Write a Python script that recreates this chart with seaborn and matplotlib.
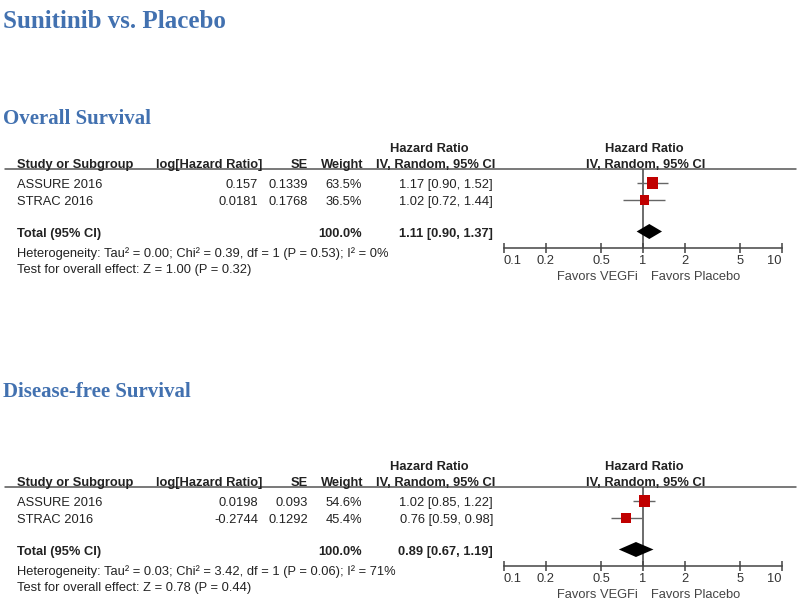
import numpy as np
import pandas as pd
import matplotlib
matplotlib.use("Agg")
import matplotlib.pyplot as plt
import seaborn as sns
from matplotlib.ticker import FixedLocator, FixedFormatter, NullLocator

sns.set_theme(style="white")
plt.rcParams["font.family"] = ["Liberation Sans", "DejaVu Sans"]

# ---------------- data ----------------
title = "Sunitinib vs. Placebo"
section_titles = ["Overall Survival", "Disease-free Survival"]
studies = ["ASSURE 2016", "STRAC 2016"]

os_log_hr = ["0.157", "0.0181"]
os_se = ["0.1339", "0.1768"]
os_weight = [63.5, 36.5]
os_hr = [1.17, 1.02]
os_lo = [0.90, 0.72]
os_hi = [1.52, 1.44]
os_total = [1.11, 0.90, 1.37]
os_het = "Heterogeneity: Tau² = 0.00; Chi² = 0.39, df = 1 (P = 0.53); I² = 0%"
os_test = "Test for overall effect: Z = 1.00 (P = 0.32)"

dfs_log_hr = ["0.0198", "-0.2744"]
dfs_se = ["0.093", "0.1292"]
dfs_weight = [54.6, 45.4]
dfs_hr = [1.02, 0.76]
dfs_lo = [0.85, 0.59]
dfs_hi = [1.22, 0.98]
dfs_total = [0.89, 0.67, 1.19]
dfs_het = "Heterogeneity: Tau² = 0.03; Chi² = 3.42, df = 1 (P = 0.06); I² = 71%"
dfs_test = "Test for overall effect: Z = 0.78 (P = 0.44)"

x_ticks = [0.1, 0.2, 0.5, 1, 2, 5, 10]
x_tick_labels = ["0.1", "0.2", "0.5", "1", "2", "5", "10"]
favors = ["Favors VEGFi", "Favors Placebo"]

# ---------------- styling ----------------
W, H = 800, 604
TXT = "#222222"
BLUE = "#4271b0"
SQ = "#c00000"
FS = 9.3
BL = 4.6  # center -> baseline offset (px) for table text
SERIF = ["Liberation Serif", "DejaVu Serif"]

fig = plt.figure(figsize=(W / 100, H / 100), dpi=100)
bg = fig.add_axes([0, 0, 1, 1])
bg.set_xlim(0, W)
bg.set_ylim(H, 0)
bg.axis("off")

bg.text(3, 28, title, fontsize=18, fontweight="bold", color=BLUE,
        family=SERIF, ha="left", va="baseline")


def fmt_ci(e, l, h):
    return f"{e:.2f} [{l:.2f}, {h:.2f}]"


def panel(off, sec_base, sec_title, log_hr, se, weight, hr, lo, hi, total, het, test):
    # off = y pixel of the first study row
    bg.text(3, sec_base, sec_title, fontsize=15, fontweight="bold", color=BLUE,
            family=SERIF, ha="left", va="baseline")
    y_h1 = off - 35.5 + BL
    y_h2 = off - 19.5 + BL
    y_line = off - 14
    row_step = 17
    y_tot = off + 49.5 + BL
    y_het = off + 69 + BL
    y_test = off + 85.5 + BL
    y_axis = off + 64.5

    # header
    kw = dict(fontsize=FS, fontweight="bold", color=TXT, va="baseline")
    bg.text(429, y_h1, "Hazard Ratio", ha="center", **kw)
    bg.text(644.5, y_h1, "Hazard Ratio", ha="center", **kw)
    bg.text(17, y_h2, "Study or Subgroup", ha="left", **kw)
    bg.text(262, y_h2, "log[Hazard Ratio]", ha="right", **kw)
    bg.text(308, y_h2, "SE", ha="right", **kw)
    bg.text(363, y_h2, "Weight", ha="right", **kw)
    bg.text(436, y_h2, "IV, Random, 95% CI", ha="center", **kw)
    bg.text(645.5, y_h2, "IV, Random, 95% CI", ha="center", **kw)
    bg.plot([5, 796], [y_line, y_line], color="#555555", lw=1.1)

    # rows
    rk = dict(fontsize=FS, color=TXT, va="baseline")
    for i, s in enumerate(studies):
        y = off + i * row_step + BL
        bg.text(17, y, s, ha="left", **rk)
        bg.text(258, y, log_hr[i], ha="right", **rk)
        bg.text(308, y, se[i], ha="right", **rk)
        bg.text(362, y, f"{weight[i]:.1f}%", ha="right", **rk)
        bg.text(493, y, fmt_ci(hr[i], lo[i], hi[i]), ha="right", **rk)

    bg.text(17, y_tot, "Total (95% CI)", ha="left", fontweight="bold", **rk)
    bg.text(362, y_tot, f"{sum(weight):.1f}%", ha="right", fontweight="bold", **rk)
    bg.text(493, y_tot, fmt_ci(*total), ha="right", fontweight="bold", **rk)
    bg.text(17, y_het, het, ha="left", **rk)
    bg.text(17, y_test, test, ha="left", **rk)

    # forest axes
    x0, x1 = 504, 782
    ax = fig.add_axes([x0 / W, 1 - y_axis / H, (x1 - x0) / W, (y_axis - y_line) / H])
    ax.set_facecolor("none")
    ax.set_xscale("log")
    ax.set_xlim(0.1, 10)
    ax.set_ylim((y_axis - off) / row_step, (y_line - off) / row_step)
    rows = np.arange(len(studies))
    t_row = 48.5 / row_step

    ax.axvline(1, color="#444444", lw=1.1, zorder=1)
    ax.hlines(rows, lo, hi, color="#666666", lw=1.0, zorder=2)
    side_pts = [1.5 * np.sqrt(w) * 0.72 for w in weight]
    df = pd.DataFrame({"hr": hr, "row": rows})
    sns.scatterplot(data=df, x="hr", y="row", marker="s", color=SQ,
                    s=[p ** 2 for p in side_pts], edgecolor="none",
                    linewidth=0, ax=ax, legend=False, zorder=3)
    dh = 7.5 / row_step
    est, tlo, thi = total
    ax.fill([tlo, est, thi, est], [t_row, t_row - dh, t_row, t_row + dh],
            color="black", lw=0, zorder=3)

    for sp in ["top", "left", "right"]:
        ax.spines[sp].set_visible(False)
    ax.spines["bottom"].set_color("#444444")
    ax.spines["bottom"].set_linewidth(1.1)
    ax.xaxis.set_major_locator(FixedLocator(x_ticks))
    ax.xaxis.set_major_formatter(FixedFormatter(x_tick_labels))
    ax.xaxis.set_minor_locator(NullLocator())
    ax.tick_params(axis="x", which="major", direction="inout", length=7,
                   width=1.1, color="#444444", labelsize=FS, labelcolor="#333333",
                   pad=2, bottom=True)
    labels = ax.get_xticklabels()
    labels[0].set_horizontalalignment("left")
    labels[-1].set_horizontalalignment("right")
    ax.set_yticks([])
    ax.set_xlabel("")
    ax.set_ylabel("")
    ax.grid(False)

    fk = dict(fontsize=FS, color="#444444", va="baseline")
    bg.text(638, y_axis + 27.5 + BL, favors[0], ha="right", **fk)
    bg.text(651, y_axis + 27.5 + BL, favors[1], ha="left", **fk)


panel(183, 124, section_titles[0], os_log_hr, os_se, os_weight, os_hr, os_lo,
      os_hi, os_total, os_het, os_test)
panel(501, 397, section_titles[1], dfs_log_hr, dfs_se, dfs_weight, dfs_hr,
      dfs_lo, dfs_hi, dfs_total, dfs_het, dfs_test)

fig.savefig("out.png", dpi=100, facecolor="white")
